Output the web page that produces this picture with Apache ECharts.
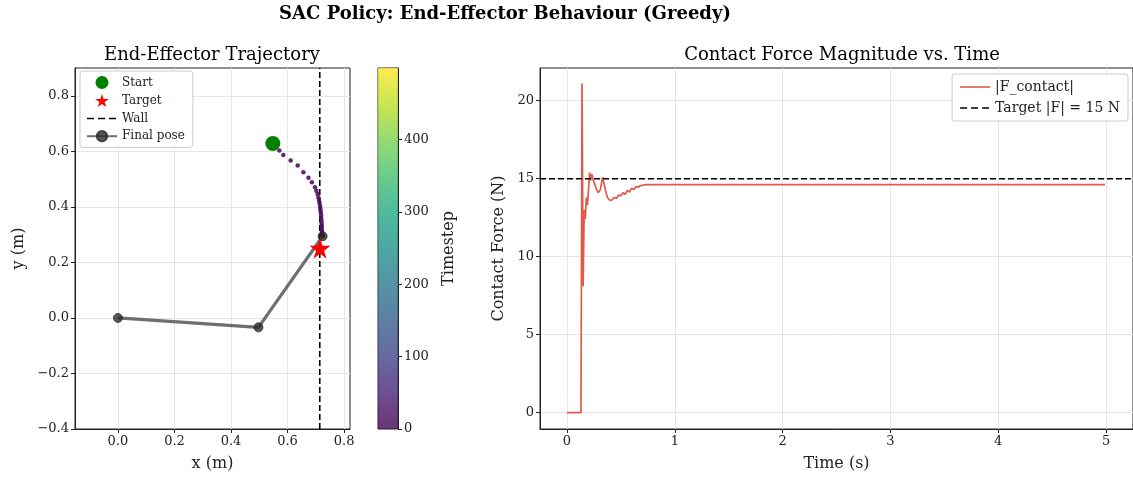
<!DOCTYPE html>
<html><head><meta charset="utf-8">
<script src="https://cdn.jsdelivr.net/npm/echarts@6/dist/echarts.min.js"></script>
<style>html,body{margin:0;padding:0;background:#fff}#c{width:1133px;height:478px}</style>
</head><body><div id="c"></div>
<script>
// ---- Data ----
const trajX = [0.571,0.585,0.611,0.636,0.656,0.674,0.686,0.697,0.702,0.706,0.709,0.711,0.713,0.715,0.716,0.717,0.718,0.719,0.719,0.720,0.720,0.721,0.721,0.721,0.722,0.722,0.723,0.723,0.723,0.724,0.724];
const trajY = [0.603,0.587,0.567,0.549,0.525,0.505,0.489,0.471,0.458,0.446,0.435,0.425,0.415,0.405,0.396,0.387,0.378,0.369,0.360,0.351,0.343,0.335,0.327,0.320,0.313,0.307,0.302,0.298,0.296,0.295,0.294];
const trajStep = [1,2,3,4,5,6,7,8,9,10,11,12,13,14,15,16,17,18,19,20,21,22,23,24,25,26,27,28,29,30,31];
const startPt = [0.548, 0.628];
const targetPt = [0.715, 0.251];
const wallX = 0.714;
const poseX = [0, 0.497, 0.724];
const poseY = [0, -0.034, 0.294];
const stepMax = 499;

const timeS  = [0,0.13,0.14,0.15,0.16,0.17,0.18,0.19,0.20,0.21,0.22,0.23,0.24,0.25,0.26,0.27,0.28,0.29,0.30,0.31,0.32,0.33,0.34,0.35,0.36,0.37,0.38,0.39,0.40,0.41,0.42,0.44,0.46,0.48,0.50,0.52,0.54,0.56,0.58,0.60,0.62,0.64,0.66,0.68,0.70,0.73,0.76,4.99];
const forceN = [0,0,21.1,8.1,13.0,12.4,13.8,13.3,14.3,15.4,14.9,15.3,15.0,14.8,14.6,14.4,14.3,14.1,14.0,14.3,14.7,15.1,14.8,14.5,14.2,13.9,13.75,13.65,13.6,13.62,13.65,13.8,13.75,13.95,13.9,14.1,14.0,14.25,14.15,14.4,14.3,14.5,14.45,14.55,14.58,14.62,14.62,14.62];
const targetForce = 15;

const trajXTicks = [0,0.2,0.4,0.6,0.8];
const trajYTicks = [-0.4,-0.2,0,0.2,0.4,0.6,0.8];
const stepTicks = [0,100,200,300,400];
const timeTicks = [0,1,2,3,4,5];
const forceTicks = [0,5,10,15,20];

const xRangeL = [-0.152, 0.821], yRangeL = [-0.4, 0.9];
const xRangeR = [-0.25, 5.25], yRangeR = [-1.05, 22.1];

const viridis = ['#440154','#482475','#414487','#355f8d','#2a788e','#21918c','#22a884','#44bf70','#7ad151','#bddf26','#fde725'];

// ---- Chart ----
const FONT = 'DejaVu Serif';
const INK = '#222';
const GRIDC = '#e6e6e6';
const mfmt = d => v => (v < 0 ? '\u2212' : '') + Math.abs(v).toFixed(d);
// legend icons (30x13 box, thin horizontal line / dashes)
const ICON_SOLID = 'path://M0,0M30,13M0,5.7L30,5.7L30,7.3L0,7.3Z';
const ICON_DASH = 'path://M0,0M30,13M0,5.7L7,5.7L7,7.3L0,7.3ZM11,5.7L18,5.7L18,7.3L11,7.3ZM22,5.7L29,5.7L29,7.3L22,7.3Z';

function valAxis(gi, range, ticks, fmt, name, gap, extra) {
  return Object.assign({
    gridIndex: gi, type: 'value', min: range[0], max: range[1],
    axisLine: {show: true, onZero: false, lineStyle: {color: INK, width: 1}},
    axisTick: {show: true, length: 4, customValues: ticks, lineStyle: {color: INK}},
    axisLabel: {customValues: ticks, formatter: fmt, color: INK, fontFamily: FONT, fontSize: 13, margin: 6},
    splitLine: {show: true, lineStyle: {color: GRIDC, width: 1}},
    name: name, nameLocation: 'middle', nameGap: gap,
    nameTextStyle: {color: INK, fontFamily: FONT, fontSize: 16}
  }, extra || {});
}

const chart = echarts.init(document.getElementById('c'), null, {renderer: 'canvas'});
const cbGradient = new echarts.graphic.LinearGradient(0, 1, 0, 0,
  viridis.map((c, i) => ({offset: i / (viridis.length - 1), color: c})));

chart.setOption({
  animation: false,
  backgroundColor: '#fff',
  graphic: [
    {type: 'text', x: 505, y: 14, style: {text: 'SAC Policy: End-Effector Behaviour (Greedy)', fill: '#000', font: 'bold 18px "DejaVu Serif"', textAlign: 'center', textVerticalAlign: 'middle'}},
    {type: 'text', x: 212, y: 55, style: {text: 'End-Effector Trajectory', fill: '#000', font: '18px "DejaVu Serif"', textAlign: 'center', textVerticalAlign: 'middle'}},
    {type: 'text', x: 842, y: 55, style: {text: 'Contact Force Magnitude vs. Time', fill: '#000', font: '18px "DejaVu Serif"', textAlign: 'center', textVerticalAlign: 'middle'}}
  ],
  grid: [
    {left: 75, top: 68, width: 275, height: 361, show: true, borderColor: INK, borderWidth: 1, backgroundColor: 'transparent'},
    {left: 378, top: 68, width: 20, height: 361, show: true, borderColor: INK, borderWidth: 1},
    {left: 540, top: 68, width: 601, height: 361, show: true, borderColor: INK, borderWidth: 1}
  ],
  xAxis: [
    valAxis(0, xRangeL, trajXTicks, mfmt(1), 'x (m)', 27),
    {gridIndex: 1, type: 'category', data: ['cb'], show: false},
    valAxis(2, xRangeR, timeTicks, v => String(v), 'Time (s)', 27)
  ],
  yAxis: [
    valAxis(0, yRangeL, trajYTicks, mfmt(1), 'y (m)', 48),
    valAxis(1, [0, stepMax], stepTicks, v => String(v), 'Timestep', 43, {position: 'right', nameRotate: 90, splitLine: {show: false}}),
    valAxis(2, yRangeR, forceTicks, v => String(v), 'Contact Force (N)', 33)
  ],
  visualMap: [{type: 'continuous', show: false, min: 0, max: stepMax, dimension: 2, seriesIndex: 0, inRange: {color: viridis}}],
  legend: [
    {data: [{name: 'Start', icon: 'circle'}, {name: 'Target'}, {name: 'Wall', icon: ICON_DASH}, {name: 'Final pose'}],
     orient: 'vertical', left: 80, top: 71, itemGap: 5, itemWidth: 30, itemHeight: 13,
     padding: [5, 8, 5, 6], borderColor: '#ccc', borderWidth: 1, borderRadius: 3, backgroundColor: 'rgba(255,255,255,0.85)',
     textStyle: {fontFamily: FONT, fontSize: 12, color: INK}},
    {data: [{name: '|F_contact|', icon: ICON_SOLID}, {name: 'Target |F| = 15 N', icon: ICON_DASH}],
     orient: 'vertical', right: 5, top: 74, itemGap: 7, itemWidth: 30, itemHeight: 13,
     padding: [6, 8, 6, 8], borderColor: '#ccc', borderWidth: 1, borderRadius: 3, backgroundColor: 'rgba(255,255,255,0.85)',
     textStyle: {fontFamily: FONT, fontSize: 14, color: INK}}
  ],
  series: [
    {name: 'trajectory', type: 'scatter', xAxisIndex: 0, yAxisIndex: 0, z: 3,
     data: trajX.map((x, i) => [x, trajY[i], trajStep[i]]), symbolSize: 4.5, itemStyle: {opacity: 0.85}},
    {name: 'Wall', type: 'line', xAxisIndex: 0, yAxisIndex: 0, z: 2, symbol: 'none',
     data: [[wallX, yRangeL[0]], [wallX, yRangeL[1]]],
     lineStyle: {color: '#000', width: 1.6, type: [6, 3]}, itemStyle: {color: '#000'}},
    {name: 'Final pose', type: 'line', xAxisIndex: 0, yAxisIndex: 0, z: 4,
     data: poseX.map((x, i) => [x, poseY[i]]), symbol: 'circle', symbolSize: 9, showAllSymbol: true,
     lineStyle: {color: 'rgba(70,70,70,0.78)', width: 3.2}, itemStyle: {color: 'rgba(40,40,40,0.78)', borderColor: 'rgba(40,40,40,0.78)', borderWidth: 1}},
    {name: 'Start', type: 'scatter', xAxisIndex: 0, yAxisIndex: 0, z: 5, data: [startPt], symbol: 'circle', symbolSize: 15, itemStyle: {color: '#008000', opacity: 1}},
    {name: 'Target', type: 'scatter', xAxisIndex: 0, yAxisIndex: 0, z: 6, data: [targetPt],
     symbol: 'path://M50,0 L61.2,34.5 L97.6,34.5 L68.2,55.9 L79.4,90.5 L50,69.1 L20.6,90.5 L31.8,55.9 L2.4,34.5 L38.8,34.5 Z',
     symbolSize: 21, itemStyle: {color: '#ff0000', opacity: 1}},
    {name: 'colorbar', type: 'bar', xAxisIndex: 1, yAxisIndex: 1, data: [stepMax], barWidth: '100%', silent: true,
     itemStyle: {color: cbGradient, opacity: 0.8}},
    {name: '|F_contact|', type: 'line', xAxisIndex: 2, yAxisIndex: 2, z: 3, symbol: 'none',
     data: timeS.map((t, i) => [t, forceN[i]]), lineStyle: {color: '#dd5b48', width: 1.7}, itemStyle: {color: '#dd5b48'}},
    {name: 'Target |F| = 15 N', type: 'line', xAxisIndex: 2, yAxisIndex: 2, z: 4, symbol: 'none',
     data: [[xRangeR[0], targetForce], [xRangeR[1], targetForce]],
     lineStyle: {color: '#000', width: 1.6, type: [6, 3]}, itemStyle: {color: '#000'}}
  ]
});
</script></body></html>
